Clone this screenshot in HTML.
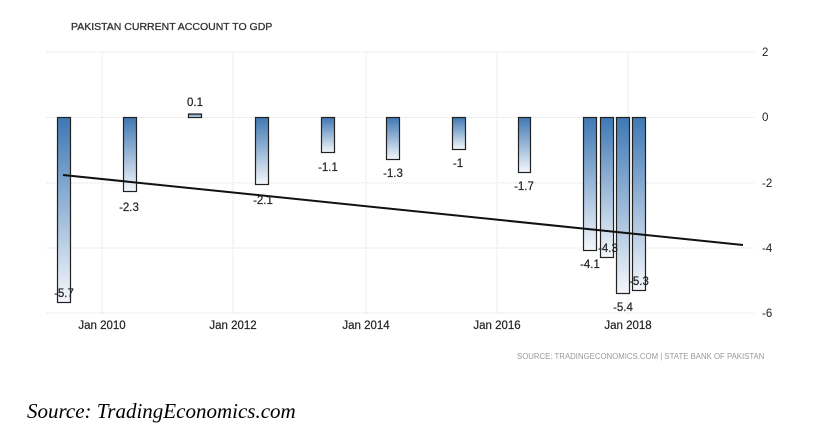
<!DOCTYPE html>
<html><head><style>
body{margin:0;background:#fff;width:831px;height:441px;overflow:hidden;}
svg{display:block}
</style></head><body>
<svg width="831" height="441" xmlns="http://www.w3.org/2000/svg">
<defs>
<linearGradient id="g" x1="0" y1="0" x2="0" y2="1">
<stop offset="0" stop-color="#3f78b4"/><stop offset="1" stop-color="#f4f7fb"/>
</linearGradient>
</defs>
<text x="71" y="30" font-family="Liberation Sans, sans-serif" font-size="10.5" fill="#333" stroke="#333" stroke-width="0.3">PAKISTAN CURRENT ACCOUNT TO GDP</text>
<g stroke="#ddd" stroke-dasharray="1,1" stroke-width="1">
<line x1="47" y1="52" x2="755" y2="52"/>
<line x1="47" y1="117.5" x2="755" y2="117.5"/>
<line x1="47" y1="183" x2="755" y2="183"/>
<line x1="47" y1="248" x2="755" y2="248"/>
<line x1="47" y1="313" x2="755" y2="313"/>
<line x1="102" y1="52" x2="102" y2="313"/>
<line x1="233" y1="52" x2="233" y2="313"/>
<line x1="366" y1="52" x2="366" y2="313"/>
<line x1="497" y1="52" x2="497" y2="313"/>
<line x1="628" y1="52" x2="628" y2="313"/>
</g>
<g stroke="#222" stroke-width="1.2" fill="url(#g)">
<rect x="57.5" y="117.5" width="13" height="185"/>
<rect x="123.5" y="117.5" width="13" height="74"/>
<rect x="188.5" y="114" width="13" height="3.5"/>
<rect x="255.5" y="117.5" width="13" height="67"/>
<rect x="321.5" y="117.5" width="13" height="35"/>
<rect x="386.5" y="117.5" width="13" height="42"/>
<rect x="452.5" y="117.5" width="13" height="32"/>
<rect x="518.5" y="117.5" width="12" height="55"/>
<rect x="583.5" y="117.5" width="13" height="133"/>
<rect x="600.5" y="117.5" width="13" height="140"/>
<rect x="616.5" y="117.5" width="13" height="176"/>
<rect x="632.5" y="117.5" width="13" height="173"/>
</g>
<line x1="63" y1="175" x2="743" y2="245" stroke="#111" stroke-width="2"/>
<g font-family="Liberation Sans, sans-serif" font-size="11.5" fill="#222" text-anchor="middle" stroke="#222" stroke-width="0.2">
<text x="64" y="297">-5.7</text>
<text x="129" y="211">-2.3</text>
<text x="195" y="106">0.1</text>
<text x="263" y="204">-2.1</text>
<text x="328" y="171">-1.1</text>
<text x="393" y="177">-1.3</text>
<text x="458" y="167">-1</text>
<text x="524" y="190">-1.7</text>
<text x="590" y="268">-4.1</text>
<text x="608" y="252">-4.3</text>
<text x="623" y="311">-5.4</text>
<text x="639" y="285">-5.3</text>
<text x="102" y="329">Jan 2010</text>
<text x="233" y="329">Jan 2012</text>
<text x="366" y="329">Jan 2014</text>
<text x="497" y="329">Jan 2016</text>
<text x="628" y="329">Jan 2018</text>
</g>
<g font-family="Liberation Sans, sans-serif" font-size="11.5" fill="#222">
<text x="762" y="56">2</text>
<text x="762" y="121">0</text>
<text x="762" y="187">-2</text>
<text x="762" y="252">-4</text>
<text x="762" y="317">-6</text>
</g>
<text x="517" y="359" font-family="Liberation Sans, sans-serif" font-size="7.8" fill="#999">SOURCE: TRADINGECONOMICS.COM | STATE BANK OF PAKISTAN</text>
<text x="27" y="418" font-family="Liberation Serif, serif" font-style="italic" font-size="21" fill="#000">Source: TradingEconomics.com</text>
</svg>
</body></html>
